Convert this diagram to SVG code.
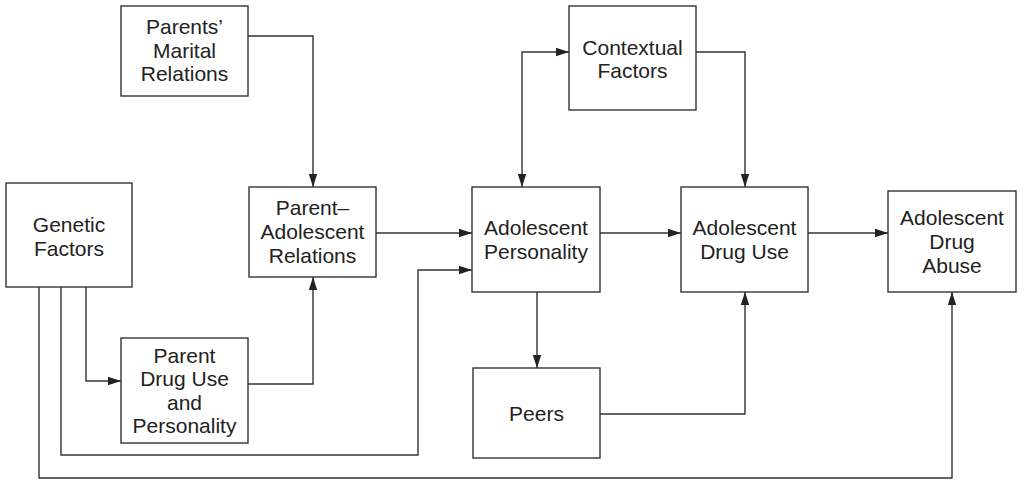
<svg xmlns="http://www.w3.org/2000/svg" width="1020" height="480" viewBox="0 0 1020 480">
  <style>
    .box { fill: #ffffff; stroke: #333333; stroke-width: 1.4; }
    .lbl { font-family: "Liberation Sans", Arial, sans-serif; font-size: 21px; fill: #222222; text-anchor: middle; }
    .wire { fill: none; stroke: #333333; stroke-width: 1.4; }
  </style>
  <defs>
    <marker id="head" markerUnits="userSpaceOnUse" markerWidth="14" markerHeight="10" refX="13" refY="5" orient="auto-start-reverse">
      <path d="M0,0.8 L13,5 L0,9.2 Z" fill="#222222"/>
    </marker>
  </defs>
  <rect width="1020" height="480" fill="#ffffff"/>

  <g id="connectors">
    <!-- Parents' Marital Relations -> Parent–Adolescent Relations -->
    <path class="wire" d="M248,36 H313 V187" marker-end="url(#head)"/>
    <!-- Parent Drug Use -> Parent–Adolescent Relations -->
    <path class="wire" d="M248,384 H313 V277" marker-end="url(#head)"/>
    <!-- Genetic Factors -> Parent Drug Use -->
    <path class="wire" d="M86,287 V381 H121" marker-end="url(#head)"/>
    <!-- Genetic Factors -> Adolescent Personality -->
    <path class="wire" d="M61,287 V455 H418 V270 H472" marker-end="url(#head)"/>
    <!-- Genetic Factors -> Adolescent Drug Abuse -->
    <path class="wire" d="M39,287 V478 H952 V292" marker-end="url(#head)"/>
    <!-- Parent–Adolescent Relations -> Adolescent Personality -->
    <path class="wire" d="M376,233 H472" marker-end="url(#head)"/>
    <!-- Contextual Factors <-> Adolescent Personality -->
    <path class="wire" d="M569,52 H522 V187" marker-start="url(#head)" marker-end="url(#head)"/>
    <!-- Contextual Factors -> Adolescent Drug Use -->
    <path class="wire" d="M696,52 H745 V187" marker-end="url(#head)"/>
    <!-- Adolescent Personality -> Adolescent Drug Use -->
    <path class="wire" d="M600,233 H681" marker-end="url(#head)"/>
    <!-- Adolescent Drug Use -> Adolescent Drug Abuse -->
    <path class="wire" d="M808,233 H888" marker-end="url(#head)"/>
    <!-- Adolescent Personality -> Peers -->
    <path class="wire" d="M537,292 V368" marker-end="url(#head)"/>
    <!-- Peers -> Adolescent Drug Use -->
    <path class="wire" d="M600,414 H745 V292" marker-end="url(#head)"/>
  </g>

  <g id="genetic-factors">
    <rect class="box" x="6" y="183" width="126" height="104"/>
    <text class="lbl" x="69" y="232">Genetic</text>
    <text class="lbl" x="69" y="255.5">Factors</text>
  </g>

  <g id="parents-marital-relations">
    <rect class="box" x="121" y="6" width="127" height="90"/>
    <text class="lbl" x="184.5" y="34">Parents’</text>
    <text class="lbl" x="184.5" y="57.5">Marital</text>
    <text class="lbl" x="184.5" y="81">Relations</text>
  </g>

  <g id="parent-adolescent-relations">
    <rect class="box" x="249" y="187" width="127" height="90"/>
    <text class="lbl" x="312.5" y="215">Parent–</text>
    <text class="lbl" x="312.5" y="239">Adolescent</text>
    <text class="lbl" x="312.5" y="263">Relations</text>
  </g>

  <g id="parent-drug-use">
    <rect class="box" x="121" y="338" width="127" height="105"/>
    <text class="lbl" x="184.5" y="362.5">Parent</text>
    <text class="lbl" x="184.5" y="386">Drug Use</text>
    <text class="lbl" x="184.5" y="409.5">and</text>
    <text class="lbl" x="184.5" y="433">Personality</text>
  </g>

  <g id="adolescent-personality">
    <rect class="box" x="472" y="187" width="128" height="105"/>
    <text class="lbl" x="536" y="235">Adolescent</text>
    <text class="lbl" x="536" y="258.5">Personality</text>
  </g>

  <g id="contextual-factors">
    <rect class="box" x="569" y="6" width="127" height="104"/>
    <text class="lbl" x="632.5" y="54.5">Contextual</text>
    <text class="lbl" x="632.5" y="78">Factors</text>
  </g>

  <g id="adolescent-drug-use">
    <rect class="box" x="681" y="187" width="127" height="105"/>
    <text class="lbl" x="744.5" y="235">Adolescent</text>
    <text class="lbl" x="744.5" y="258.5">Drug Use</text>
  </g>

  <g id="adolescent-drug-abuse">
    <rect class="box" x="888" y="191" width="128" height="101"/>
    <text class="lbl" x="952" y="225">Adolescent</text>
    <text class="lbl" x="952" y="248.5">Drug</text>
    <text class="lbl" x="952" y="272.5">Abuse</text>
  </g>

  <g id="peers">
    <rect class="box" x="473" y="368" width="127" height="90"/>
    <text class="lbl" x="536.5" y="420.5">Peers</text>
  </g>
</svg>
